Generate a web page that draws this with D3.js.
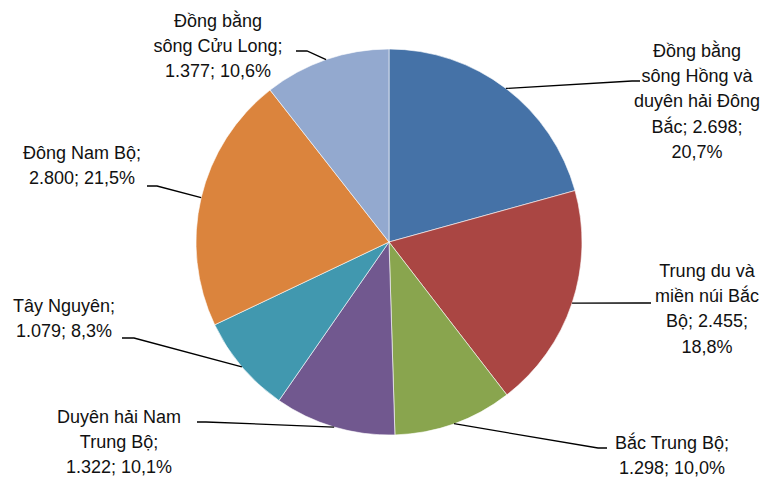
<!DOCTYPE html>
<html>
<head>
<meta charset="utf-8">
<script src="https://cdn.jsdelivr.net/npm/d3@7"></script>
<style>
  html, body { margin: 0; padding: 0; background: #fff; }
  svg { display: block; }
  text { font-family: "Liberation Sans", Arial, sans-serif; font-size: 18px; fill: #111; }
</style>
</head>
<body>
<svg id="chart" width="763" height="479"></svg>
<script>
// Regions, in drawing order clockwise from 12 o'clock
const regions = [
  "Đồng bằng sông Hồng và duyên hải Đông Bắc",
  "Trung du và miền núi Bắc Bộ",
  "Bắc Trung Bộ",
  "Duyên hải Nam Trung Bộ",
  "Tây Nguyên",
  "Đông Nam Bộ",
  "Đồng bằng sông Cửu Long"
];
const values = [2698, 2455, 1298, 1322, 1079, 2800, 1377];
const valueText = ["2.698", "2.455", "1.298", "1.322", "1.079", "2.800", "1.377"];
const percentText = ["20,7%", "18,8%", "10,0%", "10,1%", "8,3%", "21,5%", "10,6%"];

// Wrapped label lines, as they appear next to each slice
const labelLines = [
  ["Đồng bằng", "sông Hồng và", "duyên hải Đông", "Bắc; 2.698;", "20,7%"],
  ["Trung du và", "miền núi Bắc", "Bộ; 2.455;", "18,8%"],
  ["Bắc Trung Bộ;", "1.298; 10,0%"],
  ["Duyên hải Nam", "Trung Bộ;", "1.322; 10,1%"],
  ["Tây Nguyên;", "1.079; 8,3%"],
  ["Đông Nam Bộ;", "2.800; 21,5%"],
  ["Đồng bằng", "sông Cửu Long;", "1.377; 10,6%"]
];

const colors = ["#4572A7", "#AA4643", "#89A54E", "#71588F", "#4198AF", "#DB843D", "#93A9CF"];

// Label layout: text centre x, first baseline y, leader elbow and end
const labelLayout = [
  { x: 697, y: 57,  elbow: [632, 81],  end: [640, 81] },
  { x: 707, y: 277, elbow: [642, 303], end: [651, 303] },
  { x: 672, y: 449, elbow: [598, 448], end: [607, 448] },
  { x: 119, y: 423, elbow: [206, 422], end: [197, 422] },
  { x: 64,  y: 312, elbow: [134, 338], end: [122, 338] },
  { x: 82,  y: 159, elbow: [157, 186], end: [147, 186] },
  { x: 218, y: 27,  elbow: [307, 51],  end: [296, 51] }
];

const cx = 389, cy = 242, radius = 193, lineHeight = 25.2;

const svg = d3.select("#chart");
const g = svg.append("g").attr("transform", `translate(${cx},${cy})`);

const pie = d3.pie().sort(null).value(d => d.value);
const data = regions.map((r, i) => ({ name: r, value: values[i], i }));
const arcs = pie(data);

const arc = d3.arc().innerRadius(0).outerRadius(radius);
const edge = d3.arc().innerRadius(radius).outerRadius(radius);

g.selectAll("path.slice")
  .data(arcs)
  .join("path")
  .attr("class", "slice")
  .attr("d", arc)
  .attr("fill", d => colors[d.data.i])
  .attr("stroke", "#ffffff")
  .attr("stroke-width", 0.6)
  .attr("stroke-linejoin", "round");

// Leader lines from the middle of each slice's rim to its label
const line = d3.line();
svg.selectAll("path.leader")
  .data(arcs)
  .join("path")
  .attr("class", "leader")
  .attr("d", d => {
    const [px, py] = edge.centroid(d);
    const L = labelLayout[d.data.i];
    return line([[cx + px, cy + py], L.elbow, L.end]);
  })
  .attr("fill", "none")
  .attr("stroke", "#000")
  .attr("stroke-width", 1.3);

// Labels
const labels = svg.selectAll("text.label")
  .data(arcs)
  .join("text")
  .attr("class", "label")
  .attr("text-anchor", "middle")
  .attr("x", d => labelLayout[d.data.i].x)
  .attr("y", d => labelLayout[d.data.i].y);

labels.selectAll("tspan")
  .data(d => labelLines[d.data.i].map(t => ({ t, x: labelLayout[d.data.i].x })))
  .join("tspan")
  .attr("x", d => d.x)
  .attr("dy", (d, k) => k === 0 ? 0 : lineHeight)
  .text(d => d.t);
</script>
</body>
</html>
